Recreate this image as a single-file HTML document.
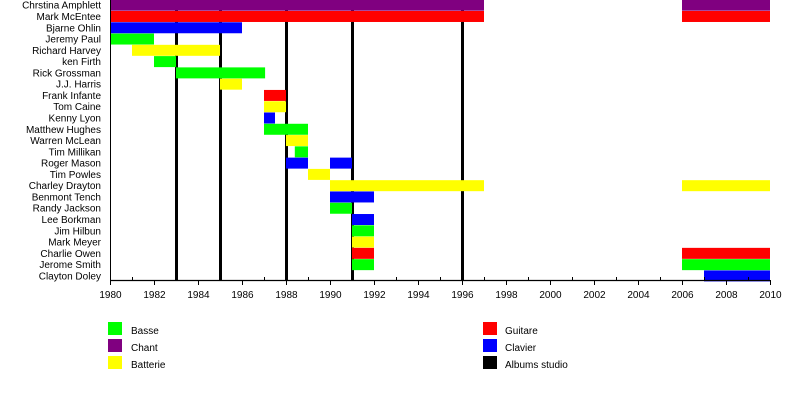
<!DOCTYPE html>
<html><head><meta charset="utf-8"><style>
html,body{margin:0;padding:0;background:#fff;}
svg{display:block;font-family:"Liberation Sans",sans-serif;}
</style></head><body>
<svg width="800" height="400" xmlns="http://www.w3.org/2000/svg">
<g id="lines" fill="#000">
<rect x="175" y="0" width="3" height="280"/>
<rect x="219" y="0" width="3" height="280"/>
<rect x="285" y="0" width="3" height="280"/>
<rect x="351" y="0" width="3" height="280"/>
<rect x="461" y="0" width="3" height="280"/>
</g>
<g id="bars"></g>
<g id="labels" font-size="10" text-anchor="end" fill="#000"></g>
<line x1="110" y1="280.5" x2="770" y2="280.5" stroke="#000" stroke-width="1.2"/>
<line x1="110.5" y1="0" x2="110.5" y2="281" stroke="#000" stroke-width="1"/>
<g id="ticks" stroke="#000"></g>
<g id="tl" font-size="10" text-anchor="middle"></g>
<g font-size="10">
<rect x="108" y="322" width="14" height="13" fill="#00ff00"/><text x="131" y="334">Basse</text>
<rect x="108" y="339" width="14" height="13" fill="#800080"/><text x="131" y="351">Chant</text>
<rect x="108" y="356" width="14" height="13" fill="#ffff00"/><text x="131" y="368">Batterie</text>
<rect x="483" y="322" width="14" height="13" fill="#ff0000"/><text x="505" y="334">Guitare</text>
<rect x="483" y="339" width="14" height="13" fill="#0000ff"/><text x="505" y="351">Clavier</text>
<rect x="483" y="356" width="14" height="13" fill="#000"/><text x="505" y="368">Albums studio</text>
</g>
<script>
var X=function(y){return 110+(y-1980)*22;};
var P="#800080",R="#ff0000",B="#0000ff",G="#00ff00",Y="#ffff00";
var rows=[
["Chrstina Amphlett",[[1980,1997,P],[2006,2010,P]]],
["Mark McEntee",[[1980,1997,R],[2006,2010,R]]],
["Bjarne Ohlin",[[1980,1986,B]]],
["Jeremy Paul",[[1980,1982,G]]],
["Richard Harvey",[[1981,1985,Y]]],
["ken Firth",[[1982,1983,G]]],
["Rick Grossman",[[1983,1987.05,G]]],
["J.J. Harris",[[1985,1986,Y]]],
["Frank Infante",[[1987,1988,R]]],
["Tom Caine",[[1987,1988,Y]]],
["Kenny Lyon",[[1987,1987.5,B]]],
["Matthew Hughes",[[1987,1989,G]]],
["Warren McLean",[[1988,1989,Y]]],
["Tim Millikan",[[1988.4,1989,G]]],
["Roger Mason",[[1988,1989,B],[1990,1991,B]]],
["Tim Powles",[[1989,1990,Y]]],
["Charley Drayton",[[1990,1997,Y],[2006,2010,Y]]],
["Benmont Tench",[[1990,1992,B]]],
["Randy Jackson",[[1990,1991,G]]],
["Lee Borkman",[[1991,1992,B]]],
["Jim Hilbun",[[1991,1992,G]]],
["Mark Meyer",[[1991,1992,Y]]],
["Charlie Owen",[[1991,1992,R],[2006,2010,R]]],
["Jerome Smith",[[1991,1992,G],[2006,2010,G]]],
["Clayton Doley",[[2007,2010,B]]]];
var ns="http://www.w3.org/2000/svg",bars=document.getElementById("bars"),lab=document.getElementById("labels");
rows.forEach(function(r,i){var top=i*11.28-0.3;
r[1].forEach(function(s){var e=document.createElementNS(ns,"rect");e.setAttribute("x",X(s[0]));e.setAttribute("y",top);e.setAttribute("width",X(s[1])-X(s[0]));e.setAttribute("height",11);e.setAttribute("fill",s[2]);bars.appendChild(e);});
var t=document.createElementNS(ns,"text");t.setAttribute("x",101);t.setAttribute("y",top+9);t.textContent=r[0];lab.appendChild(t);});
var tk=document.getElementById("ticks"),tl=document.getElementById("tl");
for(var y=1980;y<=2010;y++){var x=X(y)+0.5,l=document.createElementNS(ns,"line");l.setAttribute("x1",x);l.setAttribute("x2",x);
if(y%2==0){l.setAttribute("y1",280);l.setAttribute("y2",285);var t=document.createElementNS(ns,"text");t.setAttribute("x",x);t.setAttribute("y",298);t.textContent=y;tl.appendChild(t);}
else{l.setAttribute("y1",277);l.setAttribute("y2",280);}
tk.appendChild(l);}
</script>
</svg>
</body></html>
